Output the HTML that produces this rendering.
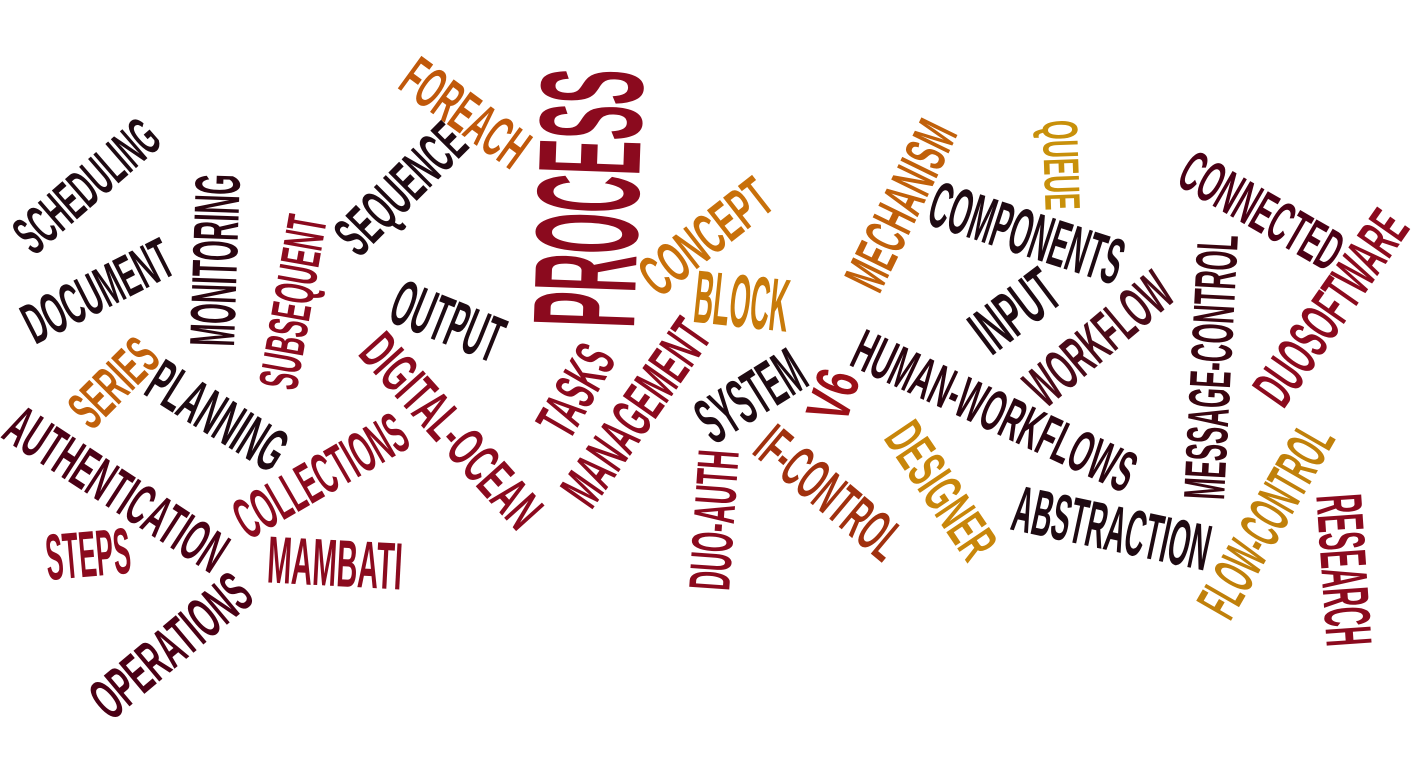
<!DOCTYPE html>
<html><head><meta charset="utf-8"><style>
html,body{margin:0;padding:0;background:#fff;width:1416px;height:763px;overflow:hidden}
svg{display:block}
text{font-family:"Liberation Sans Narrow","Liberation Sans",sans-serif;font-weight:bold}
</style></head><body>
<svg id="cloud" width="1416" height="763" viewBox="0 0 1416 763"></svg>
<script>
const words=["SCHEDULING","DOCUMENT","MONITORING","SUBSEQUENT","SEQUENCE","FOREACH","PROCESS","CONCEPT","BLOCK","OUTPUT","MECHANISM","QUEUE","COMPONENTS","CONNECTED","INPUT","WORKFLOW","MESSAGE-CONTROL","DUOSOFTWARE","HUMAN-WORKFLOWS","V6","SYSTEM","TASKS","MANAGEMENT","DIGITAL-OCEAN","SERIES","PLANNING","AUTHENTICATION","COLLECTIONS","STEPS","MAMBATI","OPERATIONS","DUO-AUTH","IF-CONTROL","DESIGNER","ABSTRACTION","FLOW-CONTROL","RESEARCH"];
// [cx, cy, angle, length, capHeight, color]
const layout=[
[86,185,-41,172,40,"#1e0a12"],
[97,290,-27,160,42,"#1e0a12"],
[214,260,-88,172,46,"#2a0510"],
[292,302,-80,175,40,"#8b0a1e"],
[400,188,-45,158,42,"#1e0a12"],
[466,112,36,142,42,"#c0580a"],
[586,198,-88,258,105,"#8b0a1e"],
[705,236,-38,150,42,"#c8700a"],
[742,300,6,95,54,"#c87a0a"],
[448,320,22,115,47,"#1e0a12"],
[900,205,-64,180,42,"#c0600a"],
[1062,165,88,90,36,"#c8900a"],
[1027,232,18,200,47,"#1e0a12"],
[1262,210,30,178,42,"#4a0015"],
[1014,310,-37,92,47,"#1e0a12"],
[1098,338,-40,172,42,"#4a0a18"],
[1210,367,-87,265,42,"#3a0510"],
[1330,307,-55,222,42,"#8b0a1e"],
[995,410,25,305,42,"#2a0510"],
[832,395,-72,50,44,"#9a1018"],
[750,395,-32,115,47,"#1e0a12"],
[575,390,-60,95,42,"#8b0a1e"],
[635,412,-55,212,42,"#8b0a1e"],
[452,430,48,240,40,"#8b0a1e"],
[113,382,-45,100,40,"#c0600a"],
[218,415,32,152,44,"#1e0a12"],
[117,488,33,252,42,"#4a0015"],
[320,475,-30,190,42,"#8b0a1e"],
[88,553,-5,85,47,"#8b0a1e"],
[335,562,3,135,48,"#8b0a1e"],
[170,645,-40,190,42,"#4a0015"],
[713,520,-86,140,42,"#8b0a1e"],
[830,492,40,172,42,"#a0300e"],
[942,490,56,152,40,"#c8860a"],
[1112,527,12,200,47,"#1e0a12"],
[1265,520,-60,212,42,"#c0800a"],
[1345,570,86,152,47,"#8b0a1e"]
];
const svg=document.getElementById('cloud');
const NS="http://www.w3.org/2000/svg";
words.forEach((w,i)=>{
  const [cx,cy,a,len,h,col]=layout[i];
  const t=document.createElementNS(NS,'text');
  
  
  t.setAttribute('x',cx);
  t.setAttribute('y',cy+h/2);
  t.setAttribute('font-size',(h/0.72).toFixed(1));
  t.setAttribute('text-anchor','middle');
  t.setAttribute('textLength',len);
  t.setAttribute('lengthAdjust','spacingAndGlyphs');
  t.setAttribute('fill',col);
  t.setAttribute('transform','rotate('+a+' '+cx+' '+cy+')');
  t.textContent=w;
  svg.appendChild(t);
});
</script>
</body></html>
